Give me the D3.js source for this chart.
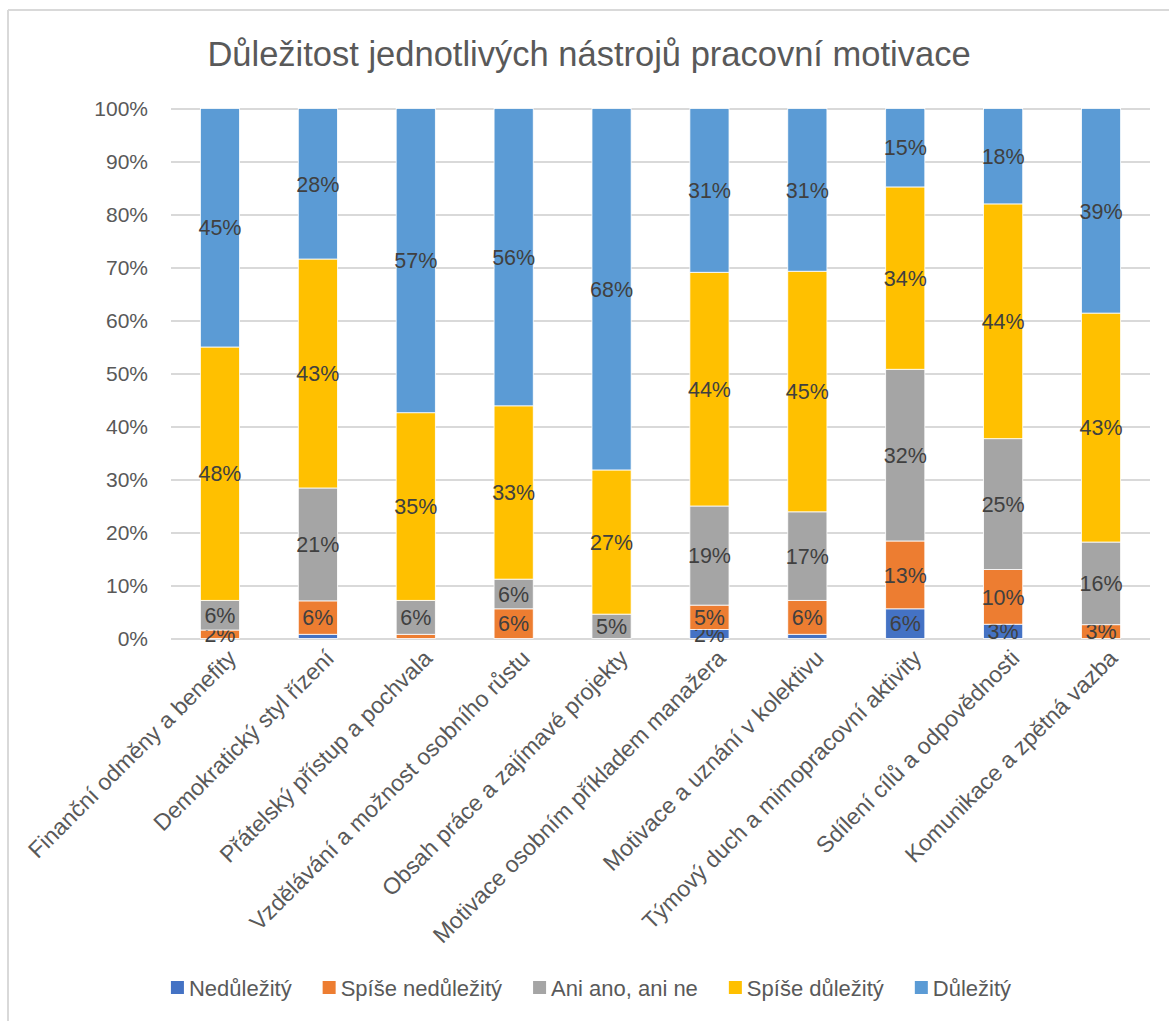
<!DOCTYPE html>
<html>
  <head>
    <meta charset="utf-8">
    <script src="https://d3js.org/d3.v7.min.js"></script>
    <style>
      body { margin: 0; background: #fff; }
      svg text { font-family: "Liberation Sans", Arial, sans-serif; }
      .grid line { stroke: #d9d9d9; stroke-width: 2px; }
      .grid text { fill: #595959; font-size: 21px; }
      .xlab { fill: #595959; font-size: 23px; }
      .lbl { fill: #404040; font-size: 21.5px; }
    </style>
  </head>
  <body>
    <div id="chart"></div>
    <script>
      var categories = [
        "Finanční odměny a benefity",
        "Demokratický styl řízení",
        "Přátelský přístup a pochvala",
        "Vzdělávání a možnost osobního růstu",
        "Obsah práce a zajímavé projekty",
        "Motivace osobním příkladem manažera",
        "Motivace a uznání v kolektivu",
        "Týmový duch a mimopracovní aktivity",
        "Sdílení cílů a odpovědnosti",
        "Komunikace a zpětná vazba"
      ];
      var seriesNames = ["Nedůležitý", "Spíše nedůležitý", "Ani ano, ani ne", "Spíše důležitý", "Důležitý"];
      var seriesColors = ["#4472c4", "#ed7d31", "#a5a5a5", "#ffc000", "#5b9bd5"];

      // percent of answers per category
      var nedulezity      = [0, 0.8, 0, 0, 0, 1.7, 0.8, 5.6, 2.7, 0];
      var spiseNedulezity = [1.6, 6.3, 0.8, 5.6, 0, 4.6, 6.4, 12.8, 10.3, 2.6];
      var aniAnoAniNe     = [5.6, 21.3, 6.4, 5.6, 4.6, 18.7, 16.7, 32.4, 24.7, 15.6];
      var spiseDulezity   = [47.8, 43.2, 35.4, 32.7, 27.2, 44.1, 45.4, 34.4, 44.3, 43.2];
      var dulezity        = [45.0, 28.4, 57.4, 56.1, 68.2, 30.9, 30.7, 14.8, 18.0, 38.6];

      var yTicks = [0, 10, 20, 30, 40, 50, 60, 70, 80, 90, 100];

      var seriesValues = [nedulezity, spiseNedulezity, aniAnoAniNe, spiseDulezity, dulezity];
      var rows = categories.map(function(c, i) {
        var r = { cat: c };
        seriesNames.forEach(function(s, j) { r[s] = seriesValues[j][i]; });
        return r;
      });

      var W = 1169, H = 1021;
      var svg = d3.select("#chart").append("svg")
        .attr("width", W)
        .attr("height", H);

      // chart frame (only top and left edges are visible in the picture)
      svg.append("line").attr("x1", 8).attr("x2", W).attr("y1", 10).attr("y2", 10)
        .attr("stroke", "#d9d9d9").attr("stroke-width", 2);
      svg.append("line").attr("x1", 8).attr("x2", 8).attr("y1", 10).attr("y2", H)
        .attr("stroke", "#d9d9d9").attr("stroke-width", 2);

      svg.append("text")
        .attr("x", 589).attr("y", 66)
        .attr("text-anchor", "middle")
        .style("font-size", "34.5px")
        .style("fill", "#595959")
        .text("Důležitost jednotlivých nástrojů pracovní motivace");

      var plotL = 171, plotR = 1150, plotT = 108.5, plotB = 638.5;

      var x = d3.scaleBand().domain(categories).range([plotL, plotR])
        .paddingInner(0.6).paddingOuter(0.3);
      var y = d3.scaleLinear().domain([0, 100]).range([plotB, plotT]);

      var grid = svg.append("g").attr("class", "grid")
        .attr("transform", "translate(" + plotL + ",0)")
        .call(d3.axisLeft(y).tickValues(yTicks)
          .tickSize(-(plotR - plotL)).tickPadding(23)
          .tickFormat(function(d) { return d + "%"; }));
      grid.select(".domain").remove();

      var stack = d3.stack().keys(seriesNames);
      var layers = stack(rows);

      var g = svg.append("g");
      var layer = g.selectAll("g.layer").data(layers).enter().append("g")
        .attr("class", "layer")
        .attr("fill", function(d, i) { return seriesColors[i]; });

      layer.selectAll("rect").data(function(d) { return d; }).enter().append("rect")
        .attr("x", function(d) { return x(d.data.cat); })
        .attr("width", x.bandwidth())
        .attr("y", function(d) { return y(d[1]); })
        .attr("height", function(d) { return y(d[0]) - y(d[1]); })
        .attr("stroke", "#fff")
        .attr("stroke-width", 0.8);

      // data labels (the tiny 1% slivers carry no label)
      var fmt = d3.format(".0f");
      layer.selectAll("text").data(function(d) { return d; }).enter()
        .filter(function(d) { return Math.round(d[1] - d[0]) >= 2; })
        .append("text")
        .attr("class", "lbl")
        .attr("x", function(d) { return x(d.data.cat) + x.bandwidth() / 2; })
        .attr("y", function(d) { return (y(d[0]) + y(d[1])) / 2; })
        .attr("dy", "0.36em")
        .attr("text-anchor", "middle")
        .text(function(d) { return fmt(d[1] - d[0]) + "%"; });

      // rotated category labels
      svg.append("g").selectAll("text").data(categories).enter().append("text")
        .attr("class", "xlab")
        .attr("text-anchor", "end")
        .attr("dy", "0.72em")
        .attr("transform", function(d) {
          return "translate(" + (x(d) + x.bandwidth() / 2 + 6) + ",648) rotate(-45)";
        })
        .text(function(d) { return d; });

      // legend
      var legend = svg.append("g");
      var items = legend.selectAll("g").data(seriesNames).enter().append("g");
      items.append("rect").attr("width", 13).attr("height", 13).attr("y", -7)
        .attr("fill", function(d, i) { return seriesColors[i]; });
      items.append("text").attr("x", 18).attr("dy", "0.36em")
        .style("font-size", "22px").style("fill", "#595959")
        .text(function(d) { return d; });
      var pos = 0;
      items.each(function() {
        var w = this.getBBox().width;
        d3.select(this).attr("transform", "translate(" + pos + ",988)");
        pos += w + 31;
      });
      var total = pos - 31;
      legend.attr("transform", "translate(" + (591 - total / 2) + ",0)");
    </script>
  </body>
</html>
